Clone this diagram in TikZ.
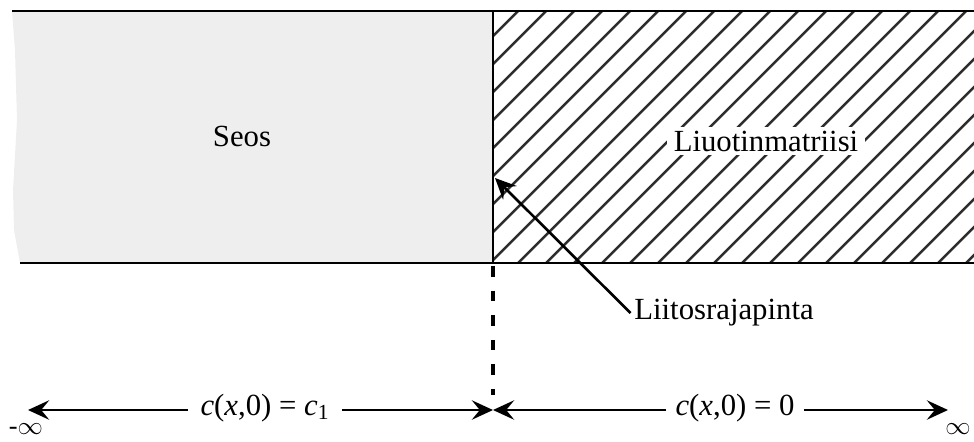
\documentclass[tikz,border=0pt]{standalone}
\usepackage{fontspec}
\setmainfont{Liberation Serif}
\usetikzlibrary{arrows.meta,positioning}
\definecolor{seosgray}{RGB}{238,238,238}
\definecolor{hatchgray}{RGB}{45,45,45}

\begin{document}
\begin{tikzpicture}[x=0.02cm, y=-0.02cm,
				>={Stealth[length=12pt,width=11pt,inset=4.5pt]},
				font=\fontsize{17.5}{20}\selectfont,
				rajaviiva/.style={line width=0.9pt},
				nuoli/.style={->, line width=1.6pt},
				teksti/.style={inner sep=2pt},
				aareton/.style={inner sep=0pt, font=\fontsize{15}{16}\selectfont}]
				\useasboundingbox (0,0) rectangle (974,441);
				% Seos-alue
				\fill[seosgray] (12,11) -- (493,11) -- (493,263) -- (20,263) -- (14,230)
					-- (13,190) -- (17,120) -- (15,50) -- cycle;
				% Vinoviivoitus
				\begin{scope}
					\clip (493,11) rectangle (974,263);
					\foreach \x in {490,518,...,1246}
						\draw[hatchgray, line width=1.4pt] (\x-252,263) -- (\x,11);
				\end{scope}
				% Rajat
				\draw[rajaviiva] (12,11) -- (974,11);
				\draw[rajaviiva] (20,263) -- (974,263);
				\draw[rajaviiva] (493,11) -- (493,263);
				\draw[line width=1.8pt, dash pattern=on 6pt off 8pt] (493,266) -- (493,395);
				% Tekstit
				\node[teksti] (seos) at (242,136) {Seos};
				\node[teksti, fill=white, inner xsep=4pt] (liuotin) at (766,141) {Liuotinmatriisi};
				\node[teksti] (liitos) at (724,313) {Liitosrajapinta};
				\coordinate (rajakohta) at (495,178);
				\draw[nuoli, line width=1.5pt] (liitos.west) -- (rajakohta);
				% Alkuehdot
				\coordinate (vasen) at (28,410);
				\coordinate (keski) at (493,410);
				\coordinate (oikea) at (948,410);
				\node[inner xsep=7pt] (ehto1) at (265,408) {\textit{c}(\textit{x},0) = \textit{c}\textsubscript{1}};
				\node[inner xsep=5pt] (ehto0) at (735,408) {\textit{c}(\textit{x},0) = 0};
				\draw[nuoli] (ehto1.west |- vasen) -- (vasen);
				\draw[nuoli] (ehto1.east |- keski) -- (keski);
				\draw[nuoli] (ehto0.west |- keski) -- (keski);
				\draw[nuoli] (ehto0.east |- oikea) -- (oikea);
				\node[aareton] (miinusinf) at (26,429) {-$\infty$};
				\node[aareton] (inf) at (958,429) {$\infty$};
			\end{tikzpicture}
\end{document}
